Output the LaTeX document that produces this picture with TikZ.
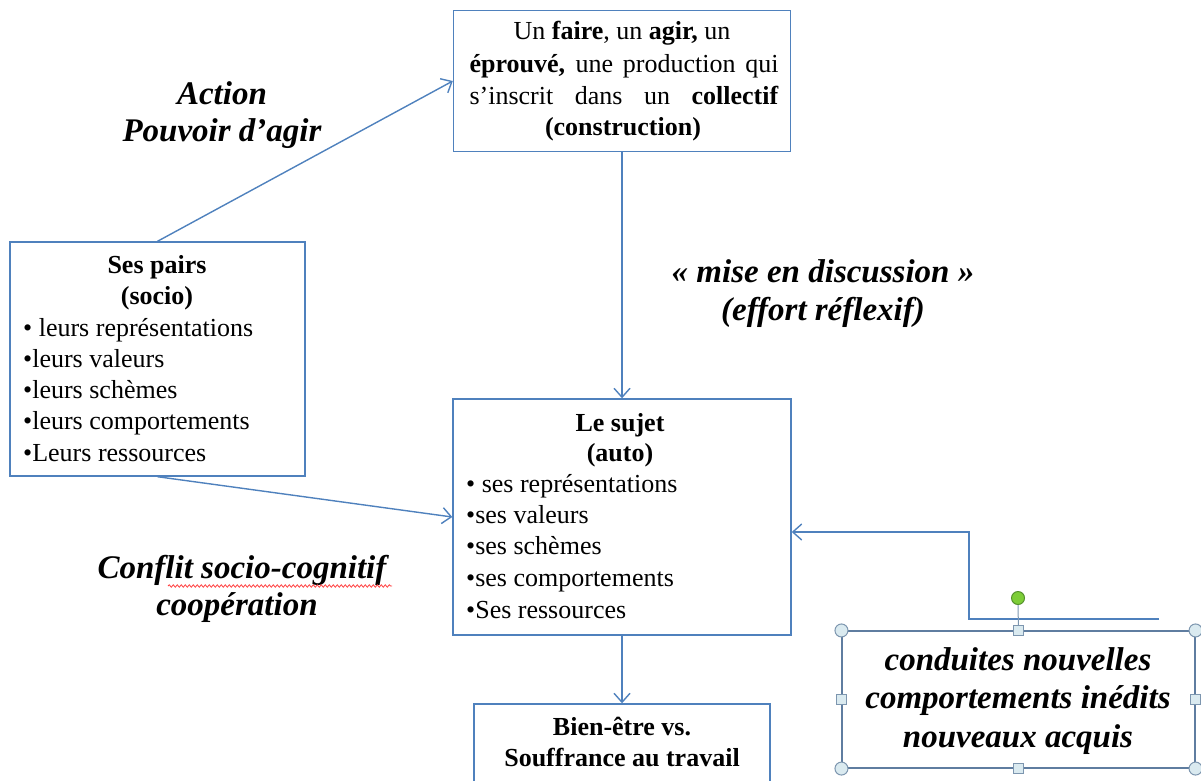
\documentclass[tikz,border=0pt]{standalone}
\usepackage{fontspec}
\setmainfont{Liberation Serif}
\usetikzlibrary{arrows.meta,decorations.pathmorphing}
\definecolor{lineblue}{RGB}{79,129,189}
\definecolor{handlefill}{RGB}{218,234,240}
\definecolor{handledraw}{RGB}{125,150,175}
\definecolor{selblue}{RGB}{95,125,160}
\definecolor{rotgreen}{RGB}{125,205,55}
\definecolor{rotgreend}{RGB}{85,145,45}
\begin{document}
\begin{tikzpicture}[x=1pt,y=-1pt,
  box/.style={draw=lineblue, line width=1.4pt, rectangle, inner sep=0pt},
  selbox/.style={draw=selblue, line width=1.1pt, rectangle, inner sep=0pt},
  arr/.style={draw=lineblue, line width=1.4pt, -{Straight Barb[length=9pt,width=16pt]}},
  txt/.style={anchor=base, inner sep=0pt, font=\fontsize{26}{31}\selectfont},
  txtb/.style={txt, font=\fontsize{26}{31}\selectfont\bfseries},
  txtl/.style={txt, anchor=base west},
  big/.style={anchor=base, inner sep=0pt, font=\fontsize{33}{37}\selectfont\bfseries\itshape},
  handle/.style={circle, draw=handledraw, fill=handlefill, line width=1pt, minimum size=13pt, inner sep=0pt},
  sqhandle/.style={rectangle, draw=handledraw, fill=handlefill, line width=1pt, minimum size=10pt, inner sep=0pt},
]
\useasboundingbox (0,0) rectangle (1201,780);
\clip (0,0) rectangle (1201,780);

% boxes
\node[box, minimum width=337pt, minimum height=141pt] (top) at (622,81) {};
\node[box, minimum width=295pt, minimum height=234pt] (pairs) at (157.5,359) {};
\node[box, minimum width=338pt, minimum height=236pt] (sujet) at (622,517) {};
\node[box, minimum width=296pt, minimum height=96pt] (bien) at (622,752) {};
\node[selbox, minimum width=353pt, minimum height=137pt] (cond) at (1018.5,699.5) {};

% top box text
\node[txt] (t1) at (622,39) {Un \textbf{faire}, un \textbf{agir,} un};
\node[txt] (t2) at (624,72) {\makebox[309pt][s]{\textbf{éprouvé,} une production qui}};
\node[txt] (t3) at (624,104) {\makebox[309pt][s]{s’inscrit dans un \textbf{collectif}}};
\node[txtb] (t4) at (623,135) {(construction)};

% ses pairs
\node[txtb] (p1) at (157,273) {Ses pairs};
\node[txtb] (p2) at (157,304) {(socio)};
\node[txtl] (p3) at (23,336) {• leurs représentations};
\node[txtl] (p4) at (23,367) {•leurs valeurs};
\node[txtl] (p5) at (23,398) {•leurs schèmes};
\node[txtl] (p6) at (23,429) {•leurs comportements};
\node[txtl] (p7) at (23,461) {•Leurs ressources};

% le sujet
\node[txtb] (s1) at (620,431) {Le sujet};
\node[txtb] (s2) at (620,461) {(auto)};
\node[txtl] (s3) at (466,492) {• ses représentations};
\node[txtl] (s4) at (466,523) {•ses valeurs};
\node[txtl] (s5) at (466,554) {•ses schèmes};
\node[txtl] (s6) at (466,586) {•ses comportements};
\node[txtl] (s7) at (466,618) {•Ses ressources};

% bien-etre
\node[txtb] (b1) at (622,735) {Bien-être vs.};
\node[txtb] (b2) at (622,766) {Souffrance au travail};

% free labels
\node[big] (a1) at (222,104) {Action};
\node[big] (a2) at (222,141) {Pouvoir d’agir};
\node[big] (m1) at (823,282) {« mise en discussion »};
\node[big] (m2) at (823,320) {(effort réflexif)};
\node[big] (c1) at (242,578) {Conflit socio-cognitif};
\node[big] (c2) at (237,615) {coopération};
\draw[red!75, line width=0.8pt, decorate, decoration={snake, amplitude=1.2pt, segment length=4pt}] (168,586) -- (392,586);

% conduites box text
\node[big, font=\fontsize{33}{39}\selectfont\bfseries\itshape] (k1) at (1018,670) {conduites nouvelles};
\node[big, font=\fontsize{33}{39}\selectfont\bfseries\itshape] (k2) at (1018,708) {comportements inédits};
\node[big, font=\fontsize{33}{39}\selectfont\bfseries\itshape] (k3) at (1018,747) {nouveaux acquis};

% connectors
\draw[arr] (pairs.north) -- (top.west);
\draw[arr] (top.south) -- (sujet.north);
\draw[arr] (pairs.south) -- (sujet.west);
\draw[arr] (sujet.south) -- (bien.north);
\coordinate (r1) at (1159,619);
\coordinate (r2) at (969,619);
\coordinate (r3) at (969,532);
\draw[arr] (r1) -- (r2) -- (r3) -- (r3 -| sujet.east);

% selection handles
\node[handle, fill=rotgreen, draw=rotgreend] (rot) at (1018,598) {};
\draw[handledraw, line width=1pt] (rot.south) -- (cond.north);
\node[handle] (hnw) at (cond.north west) {};
\node[handle] (hne) at (cond.north east) {};
\node[handle] (hsw) at (cond.south west) {};
\node[handle] (hse) at (cond.south east) {};
\node[sqhandle] (hn) at (cond.north) {};
\node[sqhandle] (hs) at (cond.south) {};
\node[sqhandle] (hw) at (cond.west) {};
\node[sqhandle] (he) at (cond.east) {};
\end{tikzpicture}
\end{document}
